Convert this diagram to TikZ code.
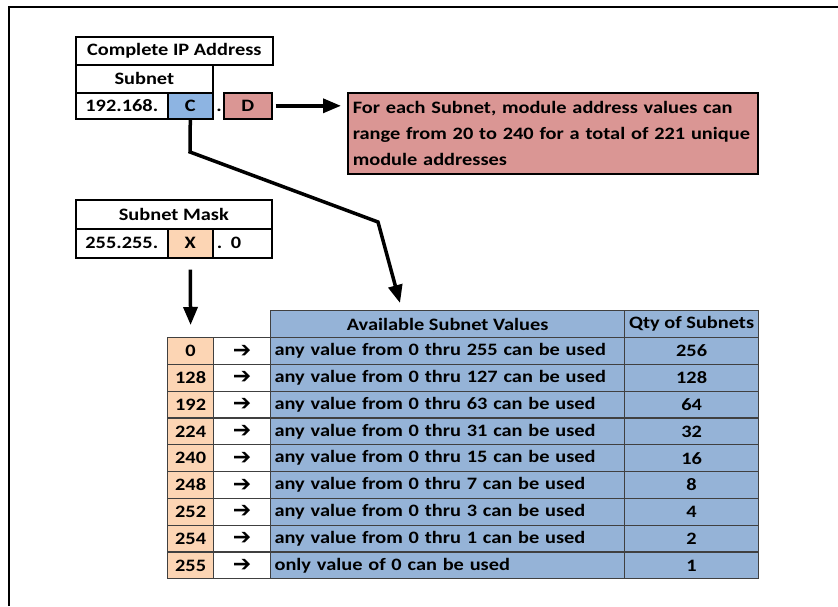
\documentclass[tikz,border=0pt]{standalone}
\usepackage{fontspec}
\setmainfont{Carlito}[FakeStretch=1.17]
\newfontfamily\symfont{DejaVu Sans}
\usetikzlibrary{arrows.meta,positioning}

\definecolor{cellblue}{HTML}{95B3D7}
\definecolor{cblue}{HTML}{8DB4E2}
\definecolor{cellred}{HTML}{DA9694}
\definecolor{cellpeach}{HTML}{FCD5B4}
\definecolor{gridgray}{HTML}{404040}

\tikzset{
  box/.style={draw=black, line width=1.6pt, inner sep=0pt, anchor=north west,
    minimum height=28pt, font=\bfseries\fontsize{17.4}{20}\selectfont},
  tcell/.style={draw=gridgray, line width=1.2pt, inner sep=0pt, anchor=north west,
    minimum height=26.8pt, font=\bfseries\fontsize{17.4}{20}\selectfont},
  bigarrow/.style={line width=3.5pt, -{Triangle[length=18pt,width=14pt]}}
}

\begin{document}
\begin{tikzpicture}[x=1pt,y=-1pt]
    \useasboundingbox (0,0) rectangle (838,606);
    % outer frame
    \draw[line width=2.5pt] (9,606) -- (9,7) -- (838,7);

    % complete IP address
    \node[box, minimum width=197] (ipaddr) at (75,36) {Complete IP Address};
    \node[box, minimum width=137] (subnet) at (75,64) {Subnet};
    \node[box, minimum width=92, minimum height=26] (ippre) at (75,92) {192.168.};
    \node[box, fill=cblue, minimum width=45, minimum height=26] (cval) at (167,92) {C};
    \coordinate (dotx) at (219,0);
    \node[font=\bfseries\fontsize{17.4}{20}\selectfont, inner sep=0pt, anchor=base] (ipdot)
      at (ippre.base -| dotx) {.};
    \node[box, fill=cellred, minimum width=48, minimum height=26] (dval) at (223,92) {D};

    % note on module addresses
    \node[box, fill=cellred, minimum width=410, minimum height=81, text width=400,
      inner xsep=5pt, align=left, font=\bfseries\fontsize{17.4}{26}\selectfont] (note) at (347,92)
      {For each Subnet, module address values can\\
       range from 20 to 240 for a total of 221 unique\\
       module addresses};
    \draw[bigarrow] ([xshift=3pt]dval.east) -- ([xshift=-6pt]note.west |- dval.east);

    % subnet mask
    \node[box, minimum width=196, minimum height=29] (maskhead) at (75,199) {Subnet Mask};
    \node[box, minimum width=92, minimum height=29] (maskpre) at (75,228) {255.255.};
    \node[box, fill=cellpeach, minimum width=45, minimum height=29] (xval) at (167,228) {X};
    \node[box, minimum width=59, minimum height=29, text width=51, inner xsep=4pt,
      align=left] (maskend) at (212,228) {. 0};

    % table of subnet values
    \node[tcell, fill=cellblue, minimum width=354] (availhead) at (270,310) {Available Subnet Values};
    \node[tcell, fill=cellblue, minimum width=134] (qtyhead) at (624,310) {Qty of Subnets};
    \foreach \m/\desc/\q [count=\i] in {
        0/{any value from 0 thru 255 can be used}/256,
        128/{any value from 0 thru 127 can be used}/128,
        192/{any value from 0 thru 63 can be used}/64,
        224/{any value from 0 thru 31 can be used}/32,
        240/{any value from 0 thru 15 can be used}/16,
        248/{any value from 0 thru 7 can be used}/8,
        252/{any value from 0 thru 3 can be used}/4,
        254/{any value from 0 thru 1 can be used}/2,
        255/{only value of 0 can be used}/1} {
      \pgfmathsetmacro\rowy{337+(\i-1)*26.8}
      \node[tcell, fill=cellpeach, minimum width=46] (mask\i) at (167,\rowy) {\m};
      \node[tcell, minimum width=57] (arr\i) at (213,\rowy) {\symfont\bfseries\fontsize{22}{24}\selectfont ➔};
      \node[tcell, fill=cellblue, minimum width=354, text width=346, inner xsep=4pt,
        align=left] (desc\i) at (270,\rowy) {\desc};
      \node[tcell, fill=cellblue, minimum width=134] (qty\i) at (624,\rowy) {\q};
    }

    % arrows into the table
    \coordinate (bendA) at (190,152);
    \coordinate (bendB) at (378,222);
    \draw[bigarrow, line join=miter] (cval.south) -- (bendA) -- (bendB)
      -- ([xshift=130pt, yshift=7pt]availhead.north west);
    \draw[bigarrow] ([yshift=-11pt]xval.south) -- ([yshift=12pt]mask1.north);
\end{tikzpicture}
\end{document}
